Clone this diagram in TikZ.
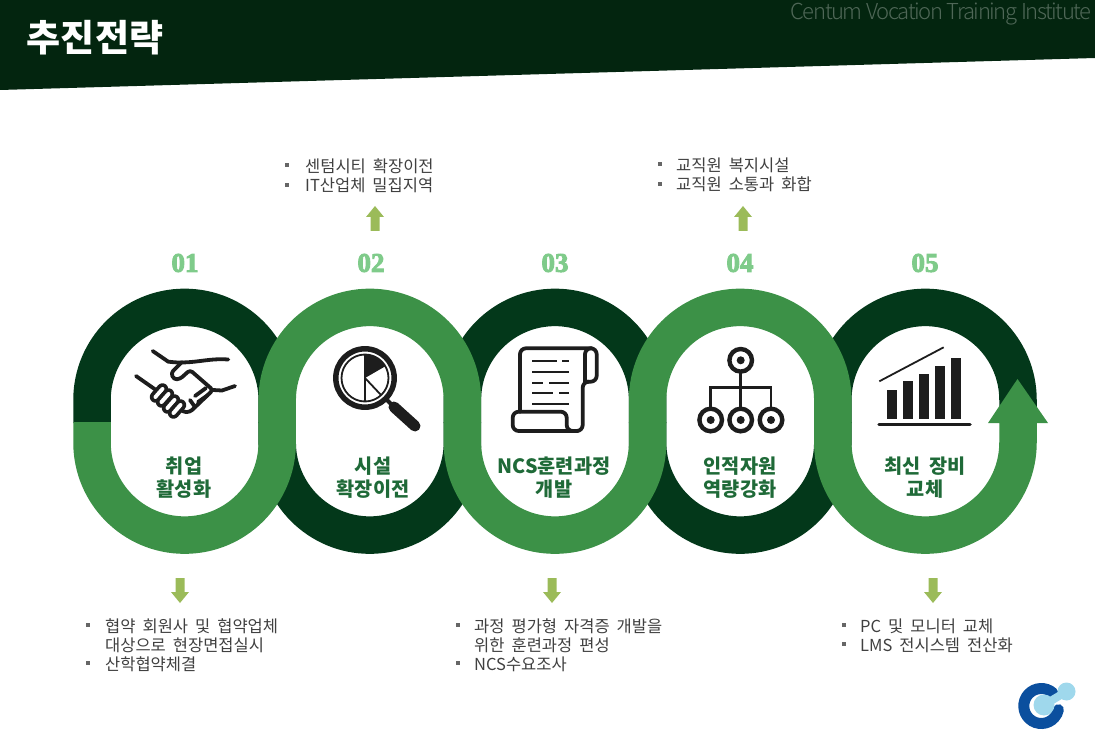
\documentclass[tikz,border=0pt]{standalone}
\usepackage{fontspec}
\setmainfont[WordSpace=1.9]{Noto Sans CJK KR}
\newfontfamily\latinfont[LetterSpace=-6.3]{Noto Sans CJK KR Light}
\newfontfamily\numfont[BoldFeatures={FakeBold=3.5}]{Liberation Serif}
\definecolor{headgreen}{HTML}{03250F}
\definecolor{darkband}{HTML}{03381A}
\definecolor{lightband}{HTML}{3C9147}
\definecolor{titlegreen}{HTML}{1F6A38}
\definecolor{numgreen}{HTML}{7FCB8A}
\definecolor{arrowgreen}{HTML}{9BBB59}
\definecolor{icongray}{HTML}{1D1D1D}
\definecolor{itemgray}{HTML}{404040}
\definecolor{logoblue}{HTML}{0B4F9E}
\definecolor{logosky}{HTML}{9FD8EC}
\tikzset{
    numlabel/.style={text=numgreen, font=\numfont\bfseries\fontsize{27}{27}\selectfont},
    steplabel/.style={text=titlegreen, align=center, font=\bfseries\fontsize{19.7}{23}\selectfont},
    itemtext/.style={text=itemgray, anchor=base west, inner sep=0pt, font=\fontsize{16.5}{19}\selectfont},
    iconline/.style={draw=icongray, line width=3.8pt, line cap=round, line join=round},
}
\begin{document}
\begin{tikzpicture}[x=1pt,y=-1pt]
    \useasboundingbox (0,0) rectangle (1095,735);
    % header
    \fill[headgreen] (0,0) -- (1095,0) -- (1095,58) -- (0,90) -- cycle;
    \node[text=white, font=\bfseries\fontsize{37}{37}\selectfont] (title) at (95,38) {추진전략};
    \node[anchor=base east, inner sep=0pt, text=white!30!headgreen, font=\latinfont\fontsize{22}{24}\selectfont] (institute) at (1092,20) {Centum Vocation Training Institute};
    % dark half loops
    \foreach \x in {92,462.4,832.8}{
        \draw[darkband, line width=37.5pt] (\x,423) -- (\x,400) arc[start angle=180, end angle=360, radius=92.6] -- ++(0,23);
        };
    \foreach \x in {277.2,647.6}{
        \draw[darkband, line width=37.5pt] (\x,422) -- (\x,442.5) arc[start angle=180, end angle=0, radius=92.6] -- ++(0,-20.5);
        };
    % light band on top
    \draw[lightband, line width=37.5pt] (92,422) -- (92,442.5)
        arc[start angle=180, end angle=0, radius=92.6] -- (277.2,400)
        arc[start angle=180, end angle=360, radius=92.6] -- (462.4,442.5)
        arc[start angle=180, end angle=0, radius=92.6] -- (647.6,400)
        arc[start angle=180, end angle=360, radius=92.6] -- (832.8,442.5)
        arc[start angle=180, end angle=0, radius=92.6] -- (1018,423);
    \fill[lightband] (988,423) -- (1017.5,379) -- (1048,423) -- cycle;
    % numbers
    \node[numlabel] (num1) at (185,263) {01};
    \node[numlabel] (num2) at (371,263) {02};
    \node[numlabel] (num3) at (555,263) {03};
    \node[numlabel] (num4) at (740,263) {04};
    \node[numlabel] (num5) at (925,263) {05};
    % small arrows
    \foreach \x in {375,743}{
        \fill[arrowgreen] (\x,206) -- ++(9,11) -- ++(-4.5,0) -- ++(0,14) -- ++(-9,0) -- ++(0,-14) -- ++(-4.5,0) -- cycle;
        };
    \foreach \x in {180,552,933}{
        \fill[arrowgreen] (\x,603) -- ++(9,-11) -- ++(-4.5,0) -- ++(0,-14) -- ++(-9,0) -- ++(0,14) -- ++(-4.5,0) -- cycle;
        };
    % step names
    \node[steplabel] (step1) at (184,478) {취업\\활성화};
    \node[steplabel] (step2) at (373,478) {시설\\확장이전};
    \node[steplabel] (step3) at (554,478) {NCS훈련과정\\개발};
    \node[steplabel] (step4) at (740,478) {인적자원\\역량강화};
    \node[steplabel] (step5) at (925,478) {최신 장비\\교체};
    % item bullets
    \foreach \x/\y in {287/165,287/185,660/164,660/184,88/625,88/663,458/625,458/663,844/625,844/644}{
        \fill[gray!80!black] (\x-2.3,\y-2.3) rectangle ++(4.6,4.6);
        };
    % item texts
    \node[itemtext] (item2a) at (305,172.5) {센텀시티 확장이전};
    \node[itemtext] (item2b) at (305,192) {IT산업체 밀집지역};
    \node[itemtext] (item4a) at (676,171.5) {교직원 복지시설};
    \node[itemtext] (item4b) at (676,191) {교직원 소통과 화합};
    \node[itemtext] (item1a) at (105,632) {협약 회원사 및 협약업체};
    \node[itemtext] (item1b) at (105,651) {대상으로 현장면접실시};
    \node[itemtext] (item1c) at (105,670) {산학협약체결};
    \node[itemtext] (item3a) at (474,632) {과정 평가형 자격증 개발을};
    \node[itemtext] (item3b) at (474,651) {위한 훈련과정 편성};
    \node[itemtext] (item3c) at (474,670) {NCS수요조사};
    \node[itemtext] (item5a) at (860,632) {PC 및 모니터 교체};
    \node[itemtext] (item5b) at (860,651) {LMS 전시스템 전산화};
    % handshake
    \draw[iconline] (152.7,351) -- (168.3,361.7) to[out=-5,in=180] (180,362.5) to[out=0,in=176] (228.3,359.5);
    \draw[iconline, rounded corners=3pt] (182,362) -- (171,373) -- (174,379.5) -- (180,379) -- (190,370) -- (213,390) -- (190,412) -- (183,412) -- (177,405);
    \draw[iconline] (213,390) -- (222,390.5) -- (235,386);
    \draw[iconline] (136,376) -- (156,390);
    \draw[iconline] (195,396) -- (206,388);
    \draw[iconline] (198,402) -- (208,395);
    \draw[iconline] (190,400) -- (195,407);
    \foreach \x/\y in {159/393,165/398,171/404,177/409}{
        \draw[icongray, line width=11.5pt, line cap=round] (\x-3.5,\y+4) -- (\x+3.5,\y-4);
        \draw[white, line width=4pt, line cap=round] (\x-3.5,\y+4) -- (\x+3.5,\y-4);
        };
    % magnifier
    \draw[icongray, line width=5.5pt] (365,378) circle[radius=29.2];
    \draw[icongray, line width=1.8pt] (365,378) circle[radius=23.5];
    \fill[icongray] (365,378) -- (365,354.5) arc[start angle=-90, end angle=-30, radius=23.5] -- cycle;
    \draw[icongray, line width=1.8pt] (365,354.5) -- (365,401.5);
    \draw[icongray, line width=1.8pt] (365,378) -- (381,395);
    \draw[icongray, line width=4pt] (387,400) -- (393,406);
    \draw[icongray, line width=11pt, line cap=round] (394,407) -- (415,426);
    % scroll
    \draw[iconline, rounded corners=6pt] (520,411.7) -- (520,348.3) -- (596.7,348.3) -- (596.7,381.7) -- (585,381.7);
    \draw[iconline, rounded corners=6pt] (585,381.7) -- (585,348.3) -- (592,348.3);
    \draw[iconline, rounded corners=6pt] (585,381.7) -- (582.7,381.7) -- (582.7,431) -- (512.7,431) -- (512.7,411.7) -- (520,411.7);
    \draw[iconline, rounded corners=6pt] (520,411.7) -- (566.7,411.7) -- (566.7,431) -- (578,431);
    \foreach \a/\b/\y in {532/557/360.7,562/569/360.7,532/569/371.7,532/543/382.7,549/569/382.7,532/553/393,559/569/393,532/569/404}{
        \draw[icongray, line width=1.8pt] (\a,\y) -- (\b,\y);
        };
    % org chart
    \draw[icongray, line width=2.6pt] (740.7,372) -- (740.7,408);
    \draw[icongray, line width=2.6pt] (710.7,408) -- (710.7,387.3) -- (771,387.3) -- (771,408);
    \foreach \x/\y in {740.7/360.3,710.7/420,740.7/420,771/420}{
        \draw[icongray, line width=4.4pt] (\x,\y) circle[radius=11.3];
        \fill[icongray] (\x,\y) circle[radius=4];
        };
    % bar chart
    \foreach \x/\y in {887/390,903/381,919/374,935/366,951/358}{
        \fill[icongray] (\x,\y) rectangle (\x+10,419);
        };
    \draw[icongray, line width=3.5pt, line cap=round] (879,424.7) -- (970,424.7);
    \draw[icongray, line width=1.8pt] (879.3,381.3) -- (943.7,347.3);
    % logo
    \draw[logoblue, line width=11pt, line cap=round] (1053,693) arc[start angle=-48, end angle=-348, radius=17.5];
    \fill[logosky] (1044,705) circle[radius=10.5];
    \fill[logosky] (1066.5,691.5) circle[radius=9];
    \draw[logosky, line width=8pt] (1044,705) -- (1066.5,691.5);
\end{tikzpicture}
\end{document}
